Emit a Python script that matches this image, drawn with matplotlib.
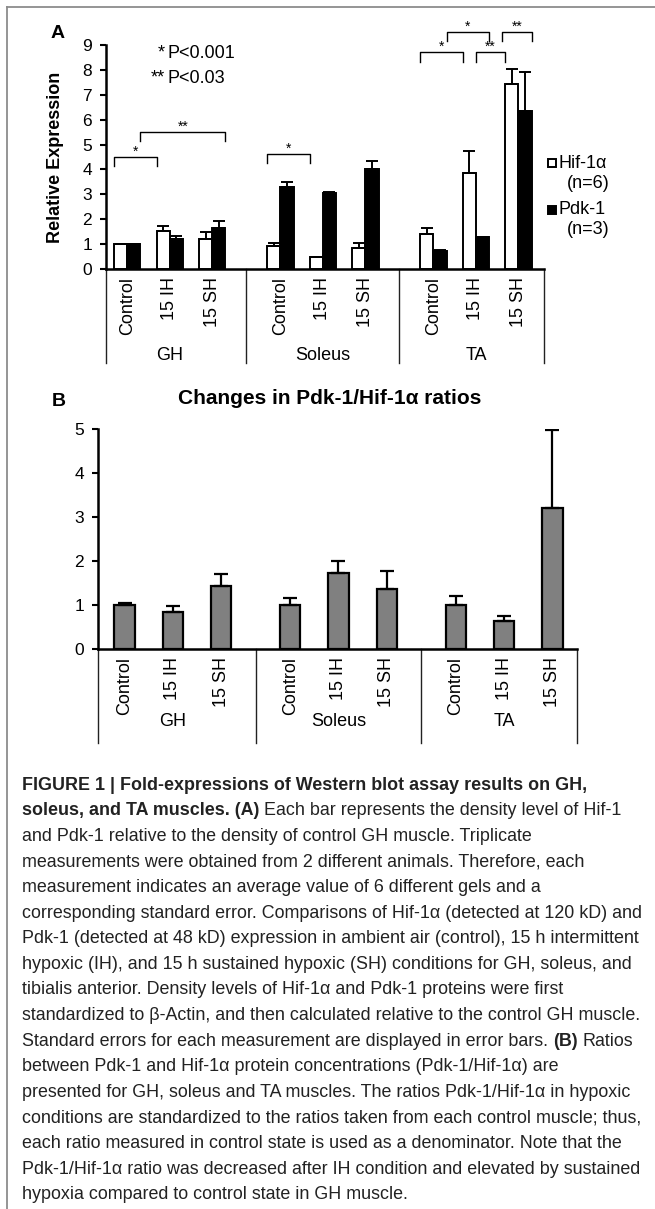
import matplotlib
matplotlib.use("Agg")
import matplotlib.pyplot as plt
import matplotlib.transforms as mtransforms
from matplotlib import font_manager
from matplotlib.lines import Line2D
from matplotlib.patches import Rectangle
import numpy as np

# ---- data ----
cats = ["Control", "15 IH", "15 SH"]
muscles = ["GH", "Soleus", "TA"]

hif = [1.00, 1.54, 1.22, 0.94, 0.47, 0.84, 1.40, 3.86, 7.44]
hif_err = [0.00, 0.20, 0.25, 0.10, 0.02, 0.20, 0.23, 0.89, 0.60]
pdk = [1.00, 1.20, 1.65, 3.28, 3.05, 4.03, 0.73, 1.28, 6.33]
pdk_err = [0.00, 0.11, 0.26, 0.23, 0.05, 0.32, 0.05, 0.02, 1.60]

ratio = [1.00, 0.83, 1.44, 1.00, 1.72, 1.37, 1.00, 0.64, 3.21]
ratio_err = [0.04, 0.15, 0.26, 0.17, 0.28, 0.40, 0.21, 0.12, 1.77]

# significance brackets: label, (group, cat, offset), (group, cat, offset), height
brackets = [
    ("*", (0, 0, -0.5), (0, 1, -0.5), 4.50),
    ("**", (0, 0, 0.5), (0, 2, 0.5), 5.50),
    ("*", (1, 0, -0.5), (1, 1, -0.5), 4.63),
    ("*", (2, 0, -0.5), (2, 1, -0.5), 8.70),
    ("**", (2, 1, 0.0), (2, 2, -0.5), 8.70),
    ("*", (2, 0, 0.5), (2, 1, 0.5), 9.52),
    ("**", (2, 1, 1.0), (2, 2, 0.5), 9.52),
]

caption = [
    [("FIGURE 1 | Fold-expressions of Western blot assay results on GH,", "bold")],
    [("soleus, and TA muscles. (A)", "bold"), ("Each bar represents the density level of Hif-1", "normal")],
    [("and Pdk-1 relative to the density of control GH muscle. Triplicate", "normal")],
    [("measurements were obtained from 2 different animals. Therefore, each", "normal")],
    [("measurement indicates an average value of 6 different gels and a", "normal")],
    [("corresponding standard error. Comparisons of Hif-1α (detected at 120 kD) and", "normal")],
    [("Pdk-1 (detected at 48 kD) expression in ambient air (control), 15 h intermittent", "normal")],
    [("hypoxic (IH), and 15 h sustained hypoxic (SH) conditions for GH, soleus, and", "normal")],
    [("tibialis anterior. Density levels of Hif-1α and Pdk-1 proteins were first", "normal")],
    [("standardized to β-Actin, and then calculated relative to the control GH muscle.", "normal")],
    [("Standard errors for each measurement are displayed in error bars.", "normal"), ("(B)", "bold"), ("Ratios", "normal")],
    [("between Pdk-1 and Hif-1α protein concentrations (Pdk-1/Hif-1α) are", "normal")],
    [("presented for GH, soleus and TA muscles. The ratios Pdk-1/Hif-1α in hypoxic", "normal")],
    [("conditions are standardized to the ratios taken from each control muscle; thus,", "normal")],
    [("each ratio measured in control state is used as a denominator. Note that the", "normal")],
    [("Pdk-1/Hif-1α ratio was decreased after IH condition and elevated by sustained", "normal")],
    [("hypoxia compared to control state in GH muscle.", "normal")],
]

W, H = 655, 1209


def fx(px):
    return px / W


def fy(py):
    return 1 - py / H


plt.rcParams["font.family"] = ["Liberation Sans", "DejaVu Sans"]
names = {f.name for f in font_manager.fontManager.ttflist}
cap_font = "Liberation Sans Narrow" if "Liberation Sans Narrow" in names else "Liberation Sans"

fig = plt.figure(figsize=(W / 100, H / 100), dpi=100)
fig.patch.set_facecolor("white")


def positions(step):
    return np.array([g * step + i for g in range(3) for i in range(3)], dtype=float)


def style_axis(ax, ylim, ticks, xlim, pos):
    ax.set_xlim(*xlim)
    ax.set_ylim(*ylim)
    ax.set_yticks(ticks)
    for s in ["top", "right"]:
        ax.spines[s].set_visible(False)
    for s in ["left", "bottom"]:
        ax.spines[s].set_linewidth(1.8)
    ax.tick_params(axis="y", direction="out", length=4, width=1.5, pad=6, labelsize=12.5)
    ax.set_xticks(pos)
    ax.set_xticklabels(cats * 3, rotation=90, fontsize=13)
    ax.tick_params(axis="x", length=0, pad=6)


def group_axis(ax, pos, step, depth, label_y):
    trans = mtransforms.blended_transform_factory(ax.transData, ax.transAxes)
    x0, x1 = ax.get_xlim()
    seps = [x0, (2 + step) / 2, (2 * step + 2 + step) / 2, x1]
    for s in seps:
        ax.plot([s, s], [0, -depth], transform=trans, color="#222222", lw=1.0, clip_on=False)
    for g, name in enumerate(muscles):
        ax.text(pos[g * 3 + 1], label_y, name, transform=trans, ha="center", va="center", fontsize=13)


# ---------------- panel A ----------------
stepA = 3.6
wa = 0.31
posA = positions(stepA)
axA = fig.add_axes([fx(106), fy(269), (544 - 106) / W, (269 - 45) / H])
axA.bar(posA - wa / 2, hif, wa, color="white", edgecolor="black", linewidth=1.4, zorder=3)
axA.bar(posA + wa / 2, pdk, wa, color="black", edgecolor="black", linewidth=1.4, zorder=3)
axA.errorbar(posA - wa / 2, hif, yerr=[np.zeros(9), hif_err], fmt="none", ecolor="black",
             elinewidth=1.4, capsize=4, capthick=1.4, zorder=4)
axA.errorbar(posA + wa / 2, pdk, yerr=[np.zeros(9), pdk_err], fmt="none", ecolor="black",
             elinewidth=1.4, capsize=4, capthick=1.4, zorder=4)
style_axis(axA, (0, 9), range(10), (-0.5, 9.8), posA)
group_axis(axA, posA, stepA, (363 - 269) / 224, -(356 - 269) / 224)

leg_d = 0.37
for lab, a, b, y in brackets:
    xa = a[0] * stepA + a[1] + a[2] * 2 * wa
    xb = b[0] * stepA + b[1] + b[2] * 2 * wa
    axA.plot([xa, xa, xb, xb], [y - leg_d, y, y, y - leg_d], color="black", lw=1.0, clip_on=False)
    axA.text((xa + xb) / 2, y + 0.22, lab, ha="center", va="center", fontsize=10)

axA.text(0.135, 8.67 / 9, "*", transform=axA.transAxes, ha="right", va="center", fontsize=13)
axA.text(0.140, 8.67 / 9, "P<0.001", transform=axA.transAxes, ha="left", va="center", fontsize=13)
axA.text(0.135, 7.67 / 9, "**", transform=axA.transAxes, ha="right", va="center", fontsize=13)
axA.text(0.140, 7.67 / 9, "P<0.03", transform=axA.transAxes, ha="left", va="center", fontsize=13)

fig.text(fx(56), fy(157), "Relative Expression", rotation=90, ha="center", va="center",
         fontsize=13, weight="bold")
fig.text(fx(58), fy(33), "A", ha="center", va="center", fontsize=14, weight="bold")

# legend drawn like the Excel one
fig.add_artist(Rectangle((fx(548), fy(167)), 8 / W, 8 / H, transform=fig.transFigure,
                         facecolor="white", edgecolor="black", lw=1.4))
fig.text(fx(558), fy(163), "Hif-1α", ha="left", va="center", fontsize=13)
fig.text(fx(588), fy(184), "(n=6)", ha="center", va="center", fontsize=13)
fig.add_artist(Rectangle((fx(548), fy(214)), 8 / W, 8 / H, transform=fig.transFigure,
                         facecolor="black", edgecolor="black", lw=1.4))
fig.text(fx(558), fy(210), "Pdk-1", ha="left", va="center", fontsize=13)
fig.text(fx(588), fy(229), "(n=3)", ha="center", va="center", fontsize=13)

# ---------------- panel B ----------------
stepB = 3.43
wb = 0.42
posB = positions(stepB)
axB = fig.add_axes([fx(98), fy(649), (577 - 98) / W, (649 - 429) / H])
axB.bar(posB, ratio, wb, color="#808080", edgecolor="black", linewidth=1.6, zorder=3)
axB.errorbar(posB, ratio, yerr=[np.zeros(9), ratio_err], fmt="none", ecolor="black",
             elinewidth=1.6, capsize=5, capthick=1.6, zorder=4)
style_axis(axB, (0, 5), range(6), (-0.55, 9.37), posB)
group_axis(axB, posB, stepB, (743 - 649) / 220, -(722 - 649) / 220)

fig.text(fx(330), fy(398), "Changes in Pdk-1/Hif-1α ratios", ha="center", va="center",
         fontsize=15, weight="bold")
fig.text(fx(59), fy(402), "B", ha="center", va="center", fontsize=14, weight="bold")

# ---------------- frame ----------------
fig.add_artist(Line2D([fx(7), 1], [fy(7), fy(7)], transform=fig.transFigure, color="#8c8c8c", lw=1.3))
fig.add_artist(Line2D([fx(7), fx(7)], [fy(7), 0], transform=fig.transFigure, color="#8c8c8c", lw=1.3))

# ---------------- caption ----------------
r = fig.canvas.get_renderer()


def text_w(s, weight, size):
    t = fig.text(0, 0, s, fontsize=size, family=[cap_font, "DejaVu Sans"], weight=weight)
    w = t.get_window_extent(r).width
    t.remove()
    return w


base = 10
widest = max(text_w(seg[0][0], seg[0][1], base) for seg in caption)
cap_size = base * 622 / widest
space_w = text_w("x x", "normal", cap_size) - text_w("xx", "normal", cap_size)

y0, dy = 785, 25.6
for i, line in enumerate(caption):
    x = 22
    for txt, wt in line:
        fig.text(fx(x), fy(y0 + i * dy), txt, ha="left", va="center", fontsize=cap_size,
                 family=[cap_font, "DejaVu Sans"], weight=wt, color="#222222")
        x += text_w(txt, wt, cap_size) + space_w

fig.savefig("out.png", dpi=100)
